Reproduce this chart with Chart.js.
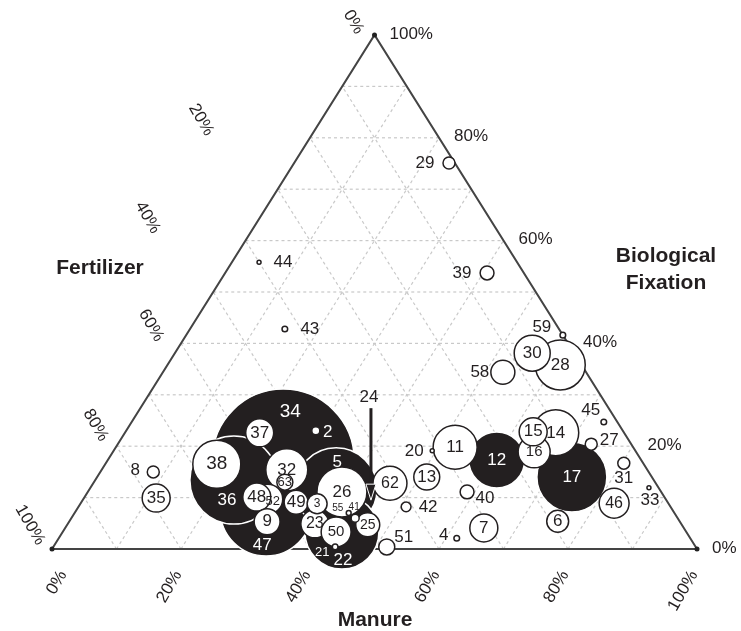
<!DOCTYPE html>
<html>
<head>
<meta charset="utf-8">
<script src="https://cdn.jsdelivr.net/npm/chart.js@4.4.1/dist/chart.umd.min.js"></script>
<style>
  body { margin: 0; background: #fff; }
  #wrap { width: 741px; height: 631px; position: relative; }
</style>
</head>
<body>
<div id="wrap"><canvas id="ternary"></canvas></div>
<script>
// sites, in drawing order (big ones first so small ones stay on top)
var sites = [34, 47, 36, 5, 22, 17, 12, 26, 28, 38, 14, 11, 32, 30, 62, 52, 16, 46, 15, 35, 48,
             23, 50, 7, 37, 13, 9, 49, 25, 58, 6, 3, 63, 51, 39, 40, 8, 29, 27, 31, 42, 2, 41,
             43, 59, 45, 4, 21, 55, 20, 33, 44, 24];
// share of N input from manure and from biological fixation (%), fertilizer = the rest
var manure = [27.2, 29.4, 21.5, 38.2, 43.3, 73.6, 60.3, 39.4, 60.9, 17.3, 66.8, 52.6, 28.7, 55.4, 46.0, 28.6, 65.3, 82.7, 63.2, 11.2, 26.7,
              38.3, 42.4, 64.9, 20.9, 51.1, 30.7, 33.3, 46.6, 52.7, 75.7, 36.7, 29.6, 51.7, 40.6, 58.8, 8.2, 24.0, 73.4, 80.3, 50.8, 29.4, 44.0,
              14.7, 58.4, 73.2, 61.7, 43.7, 42.5, 49.4, 86.6, 4.2, 44.7];
var fixation = [17.3, 7.6, 13.4, 11.7, 3.3, 14.0, 17.3, 11.1, 35.8, 16.5, 22.6, 19.8, 15.4, 38.1, 12.8, 9.7, 18.9, 8.9, 22.8, 9.9, 10.1,
                4.9, 3.3, 4.1, 22.6, 14.0, 5.3, 9.1, 4.7, 34.4, 5.4, 8.8, 13.0, 0.4, 53.7, 11.1, 15.0, 75.1, 20.4, 16.7, 8.2, 23.0, 6.0,
                42.8, 41.6, 24.7, 2.1, 0.4, 7.0, 19.1, 11.9, 55.8, 9.5];
// total N input, bubble area follows it
var totalN = [1260, 529, 484, 420, 342, 306, 196, 156, 156, 144, 132, 121, 110, 81, 72, 56, 64, 56, 49, 49, 49,
              49, 56, 49, 49, 42, 42, 36, 36, 36, 30, 25, 16, 16, 12, 12, 9, 9, 9, 9, 6, 4, 4,
              2, 2, 2, 2, 2, 1.5, 1, 1, 1, 0];
var darkSites = [34, 47, 36, 5, 22, 17, 12];
var tickPct = [0, 20, 40, 60, 80, 100];

var FONT = '"Liberation Sans", Arial, sans-serif';
var INK = '#231f20';

// where a site's number goes, relative to its bubble (default: centred)
var labelShift = {
  34: [7, -48], 36: [-7, 20], 47: [-4, 35], 5: [1, -27], 22: [1, 28], 2: [12, 2], 21: [-13, 5],
  52: [5, 2], 8: [-18, -2], 44: [24, 0], 43: [25, 0], 29: [-24, 0], 39: [-25, 0], 59: [-21, -8],
  58: [-23, 0], 45: [-13, -12], 27: [18, -4], 31: [0, 15], 33: [1, 12], 40: [18, 6], 4: [-13, -3],
  42: [22, 0], 20: [-18, 0], 51: [17, -10], 55: [-11, -5], 41: [-1, -11], 24: [-2, -103]
};
var labelSize = { 34: 19, 38: 19, 3: 12, 63: 13, 52: 13, 55: 10, 41: 10, 21: 13, 25: 14,
                  16: 15, 50: 15, 23: 16, 46: 16, 62: 16 };
var whiteText = [34, 47, 36, 5, 22, 17, 12, 2, 21];
// fertilizer tick labels sit off the left edge, nudged one by one
var leftTickShift = [[-21, -13], [-109, -18], [-98, -23], [-30, -18], [-21, -21], [-22, -24]];
var bottomTickShift = [14, 0, 0, 0, 0, 0];

// ternary -> cartesian: x runs along the manure edge, y is the fixation share
function tx(m, b) { return m + b / 2; }

var points = sites.map(function (s, i) {
  return { x: tx(manure[i], fixation[i]), y: fixation[i], r: 2 * Math.sqrt(totalN[i]) };
});

function px(chart, m, b) {
  return [chart.scales.x.getPixelForValue(tx(m, b)), chart.scales.y.getPixelForValue(b)];
}

function line(ctx, a, b) {
  ctx.beginPath();
  ctx.moveTo(a[0], a[1]);
  ctx.lineTo(b[0], b[1]);
  ctx.stroke();
}

// triangle, dashed grid and axis labels, under the bubbles
var ternaryFrame = {
  id: 'ternaryFrame',
  beforeDatasetsDraw: function (chart) {
    var ctx = chart.ctx;
    ctx.save();
    ctx.strokeStyle = '#c9c9c9';
    ctx.lineWidth = 1.2;
    ctx.setLineDash([3, 3]);
    for (var v = 10; v < 100; v += 10) {
      line(ctx, px(chart, 0, v), px(chart, 100 - v, v));      // fixation
      line(ctx, px(chart, v, 0), px(chart, v, 100 - v));      // manure
      line(ctx, px(chart, 100 - v, 0), px(chart, 0, 100 - v)); // fertilizer
    }
    ctx.setLineDash([]);

    var L = px(chart, 0, 0), R = px(chart, 100, 0), T = px(chart, 0, 100);
    ctx.strokeStyle = '#444';
    ctx.lineWidth = 2;
    ctx.beginPath();
    ctx.moveTo(L[0], L[1]);
    ctx.lineTo(R[0], R[1]);
    ctx.lineTo(T[0], T[1]);
    ctx.closePath();
    ctx.stroke();
    ctx.fillStyle = '#222';
    [L, R, T].forEach(function (p) {
      ctx.beginPath();
      ctx.arc(p[0], p[1], 2.5, 0, Math.PI * 2);
      ctx.fill();
    });

    ctx.fillStyle = INK;
    ctx.font = '17px ' + FONT;
    tickPct.forEach(function (t, i) {
      // manure, along the bottom
      var p = px(chart, t, 0);
      ctx.save();
      ctx.translate(p[0] - 3 + bottomTickShift[i], p[1] + 23);
      ctx.rotate(-Math.PI / 3);
      ctx.textAlign = 'right';
      ctx.textBaseline = 'middle';
      ctx.fillText(t + '%', 0, 0);
      ctx.restore();
      // fixation, right edge
      p = px(chart, 100 - t, t);
      ctx.textAlign = 'left';
      ctx.textBaseline = 'middle';
      ctx.fillText(t + '%', p[0] + 15, p[1] - 1);
      // fertilizer, left edge
      p = px(chart, 0, 100 - t);
      ctx.save();
      ctx.translate(p[0] + leftTickShift[i][0], p[1] + leftTickShift[i][1]);
      ctx.rotate(Math.PI / 3);
      ctx.textAlign = 'center';
      ctx.textBaseline = 'middle';
      ctx.fillText(t + '%', 0, 0);
      ctx.restore();
    });

    ctx.font = 'bold 21px ' + FONT;
    ctx.textAlign = 'center';
    ctx.textBaseline = 'middle';
    ctx.fillText('Fertilizer', 100, 268);
    ctx.fillText('Biological', 666, 256);
    ctx.fillText('Fixation', 666, 283);
    ctx.fillText('Manure', 375, 620);
    ctx.restore();
  }
};

// site numbers and the leader arrow for 24, over the bubbles
var siteLabels = {
  id: 'siteLabels',
  afterDatasetsDraw: function (chart) {
    var ctx = chart.ctx;
    var els = chart.getDatasetMeta(0).data;
    ctx.save();
    ctx.textAlign = 'center';
    ctx.textBaseline = 'middle';
    sites.forEach(function (s, i) {
      var el = els[i];
      var d = labelShift[s] || [0, 0];
      ctx.font = (labelSize[s] || 17) + 'px ' + FONT;
      ctx.fillStyle = whiteText.indexOf(s) >= 0 ? '#fff' : INK;
      ctx.fillText(String(s), el.x + d[0], el.y + d[1]);
      if (s === 24) {
        ctx.strokeStyle = INK;
        ctx.lineWidth = 3;
        line(ctx, [el.x, el.y - 92], [el.x, el.y - 14]);
        ctx.beginPath();
        ctx.moveTo(el.x, el.y);
        ctx.lineTo(el.x - 5, el.y - 16);
        ctx.lineTo(el.x + 5, el.y - 16);
        ctx.closePath();
        ctx.fillStyle = INK;
        ctx.fill();
        ctx.strokeStyle = '#fff';
        ctx.lineWidth = 1;
        ctx.stroke();
      }
    });
    ctx.restore();
  }
};

new Chart(document.getElementById('ternary'), {
  type: 'bubble',
  data: {
    datasets: [{
      data: points,
      backgroundColor: sites.map(function (s) { return darkSites.indexOf(s) >= 0 ? INK : '#fff'; }),
      borderColor: sites.map(function (s) { return darkSites.indexOf(s) >= 0 ? '#fff' : INK; }),
      borderWidth: 1.5,
      hoverRadius: 0,
      clip: false
    }]
  },
  options: {
    responsive: true,
    maintainAspectRatio: false,
    animation: false,
    events: [],
    layout: { autoPadding: false, padding: { left: 52, right: 44, top: 35, bottom: 82 } },
    scales: {
      x: { type: 'linear', min: 0, max: 100, display: false },
      y: { type: 'linear', min: 0, max: 100, display: false }
    },
    plugins: { legend: { display: false }, tooltip: { enabled: false } }
  },
  plugins: [ternaryFrame, siteLabels]
});
</script>
</body>
</html>
